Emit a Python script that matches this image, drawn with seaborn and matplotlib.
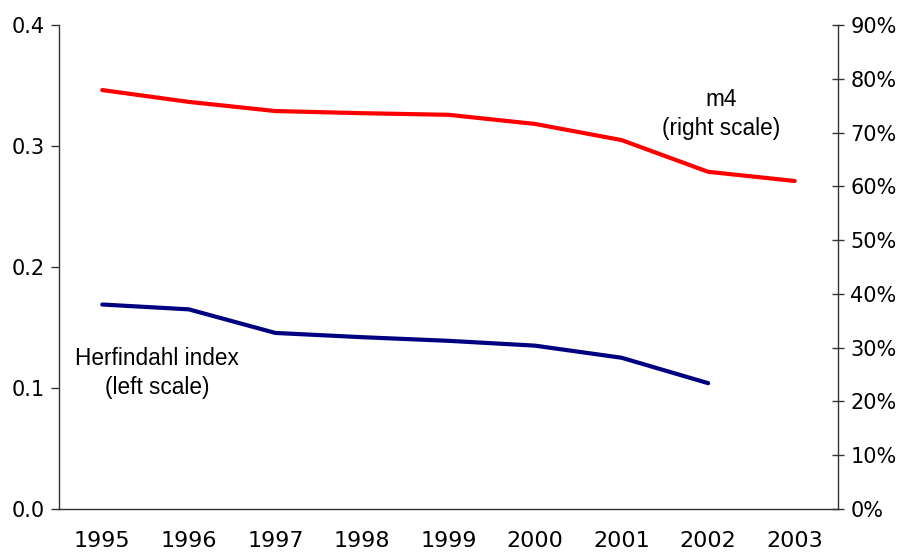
import numpy as np
import pandas as pd
import matplotlib
matplotlib.use("Agg")
import matplotlib.pyplot as plt
import seaborn as sns
from matplotlib.ticker import FuncFormatter, FixedLocator

years = ["1995", "1996", "1997", "1998", "1999", "2000", "2001", "2002", "2003"]
herfindahl = [0.169, 0.165, 0.1455, 0.142, 0.139, 0.135, 0.125, 0.104, np.nan]
m4 = [0.779, 0.757, 0.740, 0.736, 0.733, 0.716, 0.686, 0.627, 0.610]

sns.set_style("white")
plt.rcParams["font.family"] = ["DejaVu Sans"]
plt.rcParams["text.color"] = "black"

df = pd.DataFrame({"year": years, "herf": herfindahl, "m4": m4})

fig = plt.figure(figsize=(9.03, 5.54), dpi=100)
ax = fig.add_axes([0.0653, 0.0812, 0.8627, 0.8737])
ax2 = ax.twinx()

sns.lineplot(data=df.dropna(), x="year", y="herf", ax=ax, color="#000080", linewidth=3)
sns.lineplot(data=df, x="year", y="m4", ax=ax2, color="#FF0000", linewidth=3)

ax.set_xlim(-0.5, len(years) - 0.5)
ax.set_ylim(0, 0.4)
ax2.set_ylim(0, 0.9)
ax.set_yticks([0.0, 0.1, 0.2, 0.3, 0.4])
ax.yaxis.set_major_formatter(FuncFormatter(lambda v, p: f"{v:.1f}"))
ax2.set_yticks(np.arange(0, 0.91, 0.1))
ax2.yaxis.set_major_formatter(FuncFormatter(lambda v, p: f"{v*100:.0f}%"))

ax.set_xticks(range(len(years)))
ax.set_xticklabels(years)
ax.xaxis.set_minor_locator(FixedLocator(np.arange(-0.5, len(years), 1.0)))
ax.tick_params(axis="x", which="major", length=0, pad=16, labelsize=16, labelcolor="black")
ax.tick_params(axis="x", which="minor", length=6, width=1, direction="out", color="#333333")
ax.tick_params(axis="y", length=6, width=1, direction="out", labelsize=15, pad=4,
               color="#333333", labelcolor="black")
ax2.tick_params(axis="y", length=8, width=1, direction="inout", labelsize=15, pad=5,
                color="#333333", labelcolor="black")

ax.set_xlabel("")
ax.set_ylabel("")
ax2.set_ylabel("")

for a in (ax, ax2):
    a.spines["top"].set_visible(False)
ax.spines["right"].set_visible(False)
ax2.spines["left"].set_visible(False)
ax2.spines["bottom"].set_visible(False)
for s in ("left", "bottom"):
    ax.spines[s].set_color("#333333")
    ax.spines[s].set_linewidth(1)
ax2.spines["right"].set_color("#333333")
ax2.spines["right"].set_linewidth(1)

ax.text(0.63, 0.1125, "Herfindahl index\n(left scale)", ha="center", va="center",
        fontsize=16.3, family="Liberation Sans", linespacing=1.35, color="black")
ax2.text(7.15, 0.735, "m4\n(right scale)", ha="center", va="center",
         fontsize=16.3, family="Liberation Sans", linespacing=1.35, color="black")

fig.savefig("out.png", dpi=100)
